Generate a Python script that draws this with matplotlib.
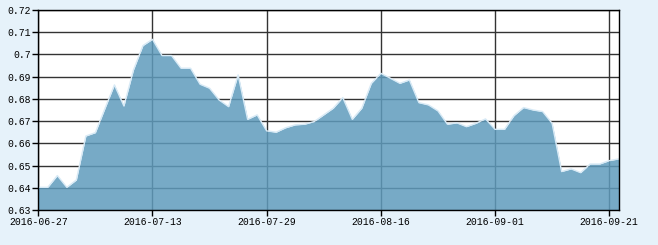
import matplotlib
matplotlib.use('Agg')
import matplotlib.pyplot as plt

# daily values, 2016-06-27 .. 2016-09-22 (trading days)
values = [0.6402, 0.6402, 0.6455, 0.6402, 0.6435, 0.6633, 0.6648, 0.6756, 0.6863, 0.6768,
          0.6930, 0.7040, 0.7068, 0.6995, 0.6995, 0.6938, 0.6938, 0.6866, 0.6848, 0.6795,
          0.6765, 0.6908, 0.6708, 0.6728, 0.6656, 0.6650, 0.6670, 0.6683, 0.6686, 0.6698,
          0.6728, 0.6758, 0.6806, 0.6708, 0.6758, 0.6870, 0.6915, 0.6893, 0.6870, 0.6885,
          0.6783, 0.6773, 0.6746, 0.6686, 0.6692, 0.6675, 0.6690, 0.6710, 0.6663, 0.6663,
          0.6725, 0.6761, 0.6750, 0.6743, 0.6690, 0.6473, 0.6485, 0.6468, 0.6507, 0.6507,
          0.6522, 0.6530]
tick_pos = [0, 12, 24, 36, 48, 60]
tick_labels = ['2016-06-27', '2016-07-13', '2016-07-29', '2016-08-16', '2016-09-01', '2016-09-21']
y_ticks = [0.63, 0.64, 0.65, 0.66, 0.67, 0.68, 0.69, 0.70, 0.71, 0.72]
y_labels = ['0.63', '0.64', '0.65', '0.66', '0.67', '0.68', '0.69', '0.7', '0.71', '0.72']

bg = '#E6F2FA'
fig = plt.figure(figsize=(6.58, 2.45), dpi=100, facecolor=bg)
ax = fig.add_axes([0.0582, 0.1429, 0.8821, 0.8163])
ax.set_facecolor('white')

x = list(range(len(values)))
ax.fill_between(x, 0.63, values, color='#5F9BBC', alpha=0.85, lw=0, zorder=2)
ax.plot(x, values, color='#D8EAF6', lw=1.0, zorder=3)

ax.set_xlim(0, len(values) - 1)
ax.set_ylim(0.63, 0.72)
ax.set_xticks(tick_pos)
ax.set_xticklabels(tick_labels)
ax.set_yticks(y_ticks)
ax.set_yticklabels(y_labels)
ax.grid(True, color='#333333', lw=1.0, zorder=1)
ax.set_axisbelow(True)

for s in ax.spines.values():
    s.set_color('black')
    s.set_linewidth(1.0)
    s.set_zorder(4)

ax.tick_params(direction='out', length=4, width=1, color='black', labelsize=7, pad=1)
for lab in ax.get_xticklabels() + ax.get_yticklabels():
    lab.set_family('Liberation Mono')

fig.savefig('out.png', dpi=100, facecolor=bg)
